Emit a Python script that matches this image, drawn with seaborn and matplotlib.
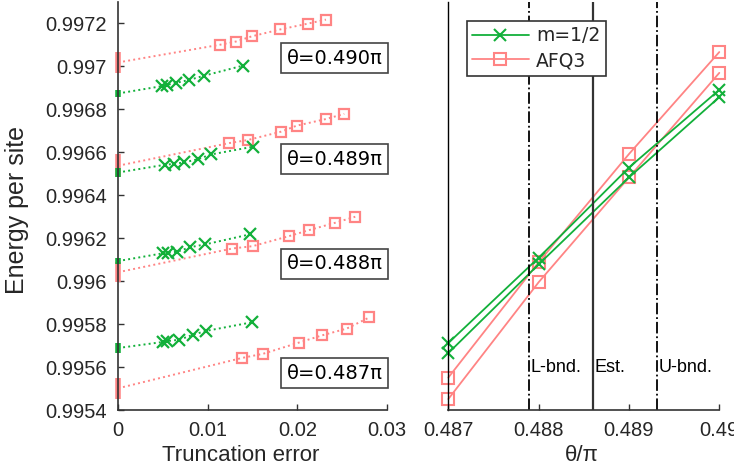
import numpy as np
import seaborn as sns
import matplotlib
matplotlib.use('Agg')
import matplotlib.pyplot as plt
from matplotlib.lines import Line2D


# theta values (in units of pi)
theta = [0.487, 0.488, 0.489, 0.490]
theta_labels = ['θ=0.487π', 'θ=0.488π', 'θ=0.489π', 'θ=0.490π']
label_E = [0.995571, 0.996081, 0.996567, 0.997039]

# extrapolated energies: upper / lower ends of the estimate
m_upper = [0.995712, 0.996109, 0.996529, 0.996891]
m_lower = [0.995665, 0.996078, 0.996483, 0.996857]
afq_upper = [0.995551, 0.996088, 0.996592, 0.997067]
afq_lower = [0.995451, 0.995995, 0.996483, 0.996970]

# truncation error vs energy, m=1/2
m_err = [[0.00505, 0.00550, 0.00684, 0.00833, 0.00978, 0.01490],
         [0.00505, 0.00561, 0.00661, 0.00803, 0.00970, 0.01472],
         [0.00524, 0.00624, 0.00736, 0.00892, 0.01037, 0.01505],
         [0.00487, 0.00550, 0.00643, 0.00792, 0.00962, 0.01397]]
m_E = [[0.995717, 0.995721, 0.995727, 0.995750, 0.995768, 0.995808],
       [0.996130, 0.996133, 0.996137, 0.996158, 0.996171, 0.996218],
       [0.996542, 0.996546, 0.996553, 0.996568, 0.996590, 0.996626],
       [0.996908, 0.996914, 0.996923, 0.996937, 0.996957, 0.997004]]

# truncation error vs energy, AFQ3
afq_err = [[0.01379, 0.01620, 0.02018, 0.02271, 0.02550, 0.02802],
           [0.01274, 0.01502, 0.01910, 0.02133, 0.02423, 0.02646],
           [0.01241, 0.01446, 0.01817, 0.01992, 0.02319, 0.02523],
           [0.01137, 0.01316, 0.01491, 0.01806, 0.02115, 0.02319]]
afq_E = [[0.995642, 0.995662, 0.995714, 0.995747, 0.995779, 0.995831],
         [0.996152, 0.996163, 0.996210, 0.996238, 0.996272, 0.996300],
         [0.996643, 0.996657, 0.996696, 0.996724, 0.996755, 0.996779],
         [0.997101, 0.997116, 0.997140, 0.997172, 0.997199, 0.997218]]

# critical point estimate and bounds
bounds = [0.48789, 0.4886, 0.48931]
bound_labels = ['L-bnd.', 'Est.', 'U-bnd.']

GREEN = '#12b03a'
PINK = '#ff8484'
DARK = '#262626'
TICK_FONT = 'Liberation Sans'


def style_axis(ax):
    ''' inward ticks, helvetica-ish labels '''
    ax.tick_params(direction='in', length=4, width=1, colors='#333333',
                   labelcolor=DARK, labelsize=14.5, pad=8)
    for lab in ax.get_xticklabels() + ax.get_yticklabels():
        lab.set_family(TICK_FONT)
    for s in ax.spines.values():
        s.set_color('#333333')
        s.set_linewidth(1.2)


def plot_truncation(ax):
    ''' left panel: energy vs truncation error with extrapolated range '''
    for i in range(len(theta)):
        for err, E, lo, hi, col, mk in [
                (afq_err[i], afq_E[i], afq_lower[i], afq_upper[i], PINK, 's'),
                (m_err[i], m_E[i], m_lower[i], m_upper[i], GREEN, 'x')]:
            mid = 0.5 * (lo + hi)
            xs = [0.0] + err
            ys = [mid] + E
            sns.lineplot(x=xs, y=ys, ax=ax, color=col, linestyle=':',
                         linewidth=1.4, marker=mk, markersize=8 if mk == 'x' else 7,
                         markeredgewidth=1.6, markerfacecolor='none',
                         markeredgecolor=col, markevery=list(range(1, len(xs))),
                         sort=False, estimator=None)
            # thick bar at zero truncation error
            sns.lineplot(x=[0.0, 0.0], y=[lo, hi], ax=ax, color=col,
                         linewidth=4, solid_capstyle='butt', clip_on=False,
                         sort=False, estimator=None)
        ax.text(0.02414, label_E[i], theta_labels[i], ha='center', va='center',
                fontsize=14, family='DejaVu Sans', color='black',
                bbox=dict(boxstyle='square,pad=0.28', fc='white', ec='#444444', lw=1.2))

    ax.set_xlim(0, 0.03)
    ax.set_ylim(0.9954, 0.99730)
    ax.set_xticks([0, 0.01, 0.02, 0.03])
    ax.set_xticklabels(['0', '0.01', '0.02', '0.03'])
    yt = np.round(np.arange(0.9954, 0.99721, 0.0002), 4)
    ax.set_yticks(yt)
    ax.set_yticklabels(['%g' % v for v in yt])
    ax.set_xlabel('Truncation error', family=TICK_FONT, fontsize=16, color=DARK)
    ax.xaxis.set_label_coords(0.455, -0.085)
    ax.set_ylabel('Energy per site', family=TICK_FONT, fontsize=18, color=DARK)
    ax.yaxis.set_label_coords(-0.33, 0.49)
    sns.despine(ax=ax)
    style_axis(ax)


def plot_theta(ax):
    ''' right panel: extrapolated energies vs theta '''
    for lo, hi, col, mk in [(afq_lower, afq_upper, PINK, 's'),
                            (m_lower, m_upper, GREEN, 'x')]:
        for ys in (hi, lo):
            sns.lineplot(x=theta, y=ys, ax=ax, color=col, linewidth=1.3,
                         marker=mk, markersize=9 if mk == 'x' else 8,
                         markeredgewidth=1.5, markerfacecolor='none',
                         markeredgecolor=col, clip_on=False,
                         sort=False, estimator=None)

    styles = ['-.', '-', '-.']
    colors = ['black', '#333333', 'black']
    for b, lab, ls, c in zip(bounds, bound_labels, styles, colors):
        ax.axvline(b, color=c, linestyle=ls, linewidth=1.3 if ls == '-.' else 1.6)
        ax.text(b + 0.00002, 0.995596, lab, ha='left', va='center',
                fontsize=13, family=TICK_FONT, color='black')

    ax.set_xlim(0.487, 0.490)
    ax.set_ylim(0.9954, 0.99730)
    ax.set_xticks([0.487, 0.488, 0.489, 0.490])
    ax.set_xticklabels(['0.487', '0.488', '0.489', '0.49'])
    ax.set_yticks([])
    ax.set_xlabel('θ/π', family=TICK_FONT, fontsize=16, color=DARK)
    ax.xaxis.set_label_coords(0.493, -0.085)
    sns.despine(ax=ax)
    style_axis(ax)
    ax.spines['left'].set_color('black')
    ax.spines['left'].set_linewidth(1.0)

    handles = [Line2D([], [], color=GREEN, marker='x', markersize=9,
                      markeredgewidth=1.5, linewidth=1.3),
               Line2D([], [], color=PINK, marker='s', markersize=8,
                      markerfacecolor='none', markeredgewidth=1.5, linewidth=1.3)]
    leg = ax.legend(handles, ['m=1/2', 'AFQ3'], loc='upper left',
                    bbox_to_anchor=(0.068, 0.954), borderaxespad=0,
                    fancybox=False, framealpha=1, edgecolor='#333333',
                    handlelength=3.0, borderpad=0.3,
                    labelspacing=0.3, handletextpad=0.4,
                    prop={'family': 'DejaVu Sans', 'size': 13.5})
    leg.get_frame().set_linewidth(1.2)


if __name__ == '__main__':
    sns.set_style('ticks')
    plt.rcParams['font.family'] = ['DejaVu Sans']

    fig = plt.figure(figsize=(7.34, 4.76), dpi=100)
    ax1 = fig.add_axes([118 / 734, 66 / 476, 269 / 734, 408 / 476])
    ax2 = fig.add_axes([448.3 / 734, 66 / 476, 271 / 734, 408 / 476])

    plot_truncation(ax1)
    plot_theta(ax2)

    fig.savefig('out.png', dpi=100)
